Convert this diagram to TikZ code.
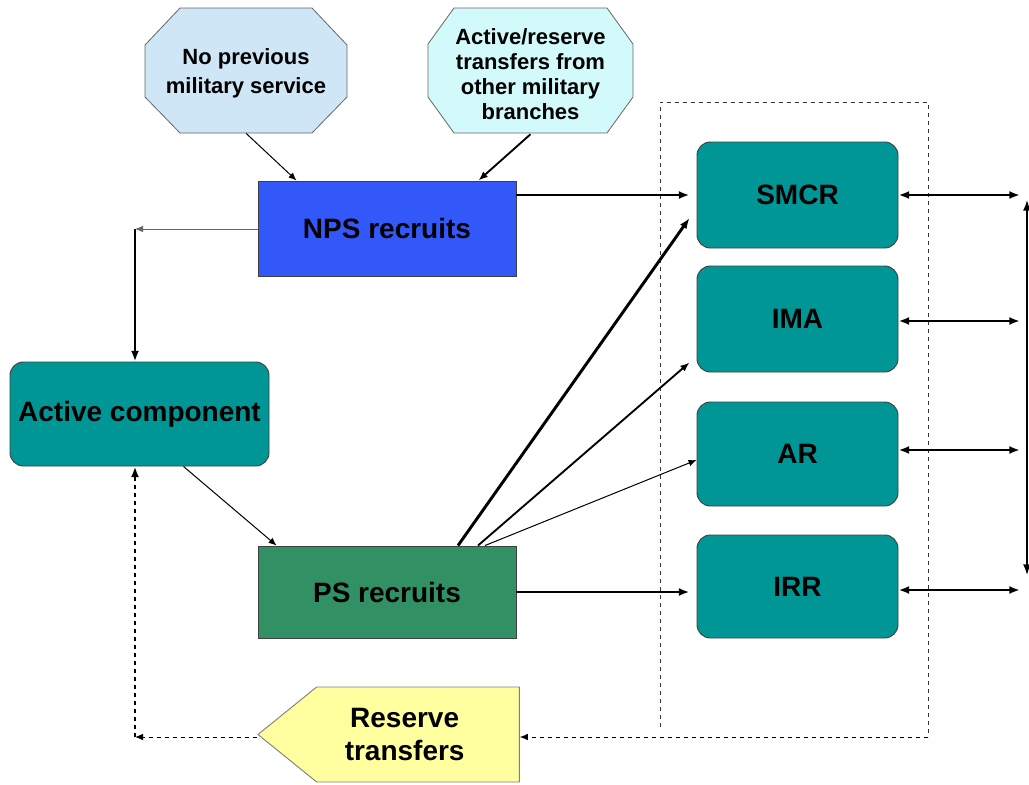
\documentclass[tikz,border=0pt]{standalone}
\usepackage{fontspec}
\setmainfont{Liberation Sans}
\usetikzlibrary{shapes.symbols, calc, arrows.meta}

\definecolor{npsblue}{RGB}{51,88,250}
\definecolor{compteal}{RGB}{0,150,150}
\definecolor{psgreen}{RGB}{50,145,100}
\definecolor{octblue}{RGB}{206,230,245}
\definecolor{octcyan}{RGB}{210,250,250}
\definecolor{resyellow}{RGB}{255,255,160}

\begin{document}
\begin{tikzpicture}[x=0.75pt, y=-0.75pt,
    box/.style={draw=black!75, line width=0.7pt, align=center, inner sep=0pt,
        font=\bfseries\fontsize{21}{25}\selectfont},
    comp/.style={box, rounded corners=10pt, fill=compteal},
    octa/.style={draw=black!60, line width=0.6pt},
    octtext/.style={align=center, inner sep=0pt, minimum width=150pt},
    arr/.style={-{Latex[length=8pt,width=6pt]}},
    thin arr/.style={-{Latex[length=6pt,width=5pt]}, line width=0.75pt},
    mid arr/.style={-{Latex[length=7pt,width=5.5pt]}, line width=1.4pt},
    thick arr/.style={-{Latex[length=8pt,width=6pt]}, line width=2.2pt}]

    \useasboundingbox (0,0) rectangle (1029,785);

    % Sources of recruits
    \draw[octa, fill=octblue] (180,8) -- (312,8) -- (347,45) -- (347,97) -- (312,133)
        -- (180,133) -- (145,97) -- (145,45) -- cycle;
    \node[octtext, minimum height=89.25pt, font=\bfseries\fontsize{16.5}{21.75}\selectfont]
        (noprev) at (246,73.5) {No previous\\military service};
    \draw[octa, fill=octcyan] (454,8) -- (607,8) -- (633,44) -- (633,97) -- (607,133)
        -- (454,133) -- (428,97) -- (428,44) -- cycle;
    \node[octtext, minimum height=90pt, font=\bfseries\fontsize{16.5}{18.75}\selectfont]
        (transfer) at (530.5,74) {Active/reserve\\transfers from\\other military\\branches};

    % Recruit pools
    \node[box, fill=npsblue, minimum width=193.5pt, minimum height=71.25pt] (nps) at (387,228.5) {NPS recruits};
    \node[box, fill=psgreen, minimum width=193.5pt, minimum height=69pt] (ps) at (387,592) {PS recruits};

    % Active component
    \node[comp, minimum width=194.25pt, minimum height=78pt] (active) at (139.5,414) {Active component};

    % Reserve categories
    \node[comp, minimum width=150.75pt, minimum height=79.5pt] (smcr) at (797.5,195) {SMCR};
    \node[comp, minimum width=150.75pt, minimum height=79.5pt] (ima) at (797.5,319) {IMA};
    \node[comp, minimum width=150.75pt, minimum height=78pt] (ar) at (797.5,454) {AR};
    \node[comp, minimum width=150.75pt, minimum height=77.25pt] (irr) at (797.5,586.5) {IRR};

    % Reserve transfers
    \node[box, signal, signal to=west, signal pointer angle=78, fill=resyellow,
        draw=black!50, minimum width=196pt, minimum height=71.25pt] (reserve) at (418,734.5)
        {Reserve\hspace*{20pt}\\transfers\hspace*{20pt}};

    % Dashed frame round the reserve
    \draw[dashed, line width=0.6pt, black!80] (660,727) -- (660,102) -- (928,102) -- (928,737) coordinate (fr);

    % Corner points
    \coordinate (ctop) at (135,229);
    \coordinate (cbot) at (135,737);
    \coordinate (e1) at (1020,195);
    \coordinate (e2) at (1020,321);
    \coordinate (e3) at (1020,450);
    \coordinate (e4) at (1020,590);
    \coordinate (vt) at (1027,200);
    \coordinate (vb) at (1027,575);

    % Into NPS recruits
    \draw[thin arr] (noprev.south) -- ($(nps.north west)+(39,0)$);
    \draw[mid arr] (transfer.south) -- ($(nps.north east)+(-38,0)$);

    % NPS recruits to active component
    \draw[thin arr, black!60] (nps.west |- ctop) -- (ctop);
    \draw[thick arr] (ctop) -- (ctop |- active.north);

    % Active component to PS recruits
    \draw[thin arr] ($(active.south)+(44,0)$) -- ($(ps.north west)+(19,0)$);

    % Into the reserve
    \draw[thick arr] (nps.east |- smcr.west) -- ($(smcr.west)+(-7,0)$);
    \draw[thick arr] ($(ps.north)+(71,0)$) -- ($(smcr.west)+(-7,23)$);
    \draw[mid arr] ($(ps.north)+(91,0)$) -- ($(ima.south west)+(-7,-10)$);
    \draw[thin arr] ($(ps.north)+(98,0)$) -- ($(ar.west)+(0,6)$);
    \draw[thick arr] (ps.east) -- ($(ps.east -| irr.west)+(-7,0)$);

    % Out of the reserve
    \foreach \n/\e in {smcr/e1, ima/e2, ar/e3, irr/e4}
        \draw[{Latex[length=8pt,width=6pt]}-{Latex[length=8pt,width=6pt]}, line width=1.8pt] (\n.east |- \e) -- (\e);
    \draw[{Latex[length=8pt,width=6pt]}-{Latex[length=8pt,width=6pt]}, line width=1.2pt] (vt) -- (vb);

    % Back to the active component
    \draw[dashed, thin arr] (fr) -- (reserve.east |- fr);
    \draw[dashed, thin arr] (reserve.west |- cbot) -- (cbot);
    \draw[dashed, line width=1.8pt, -{Latex[length=8pt,width=6pt]}] (cbot) -- (cbot |- active.south);

\end{tikzpicture}
\end{document}
